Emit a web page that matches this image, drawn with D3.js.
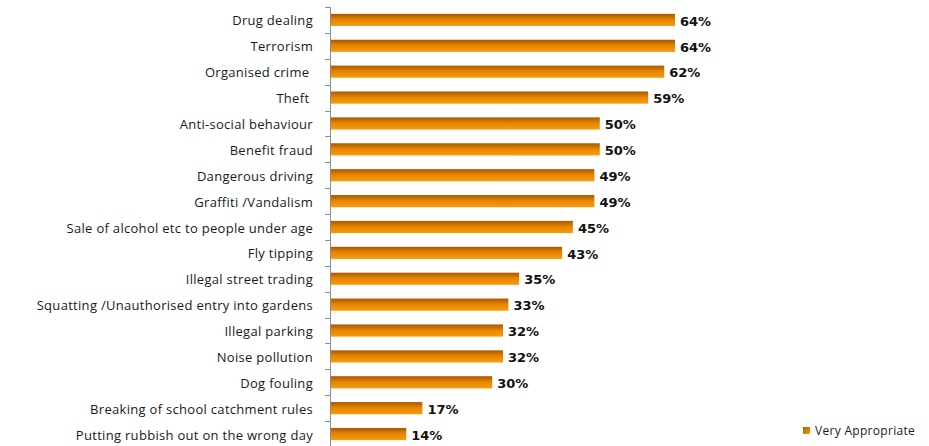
<!DOCTYPE html>
<html>
<head>
<meta charset="utf-8">
<script src="https://cdn.jsdelivr.net/npm/d3@7"></script>
<style>
  html, body { margin: 0; padding: 0; background: #fff; }
  svg { display: block; }
  text { white-space: pre; }
</style>
</head>
<body>
<svg id="chart" width="929" height="446"></svg>
<script>
// Share of respondents rating each issue "Very Appropriate"
const categories = [
  "Drug dealing",
  "Terrorism",
  "Organised crime ",
  "Theft ",
  "Anti-social behaviour",
  "Benefit fraud",
  "Dangerous driving",
  "Graffiti /Vandalism",
  "Sale of alcohol etc to people under age",
  "Fly tipping",
  "Illegal street trading",
  "Squatting /Unauthorised entry into gardens",
  "Illegal parking",
  "Noise pollution",
  "Dog fouling",
  "Breaking of school catchment rules",
  "Putting rubbish out on the wrong day"
];
const values = [64, 64, 62, 59, 50, 50, 49, 49, 45, 43, 35, 33, 32, 32, 30, 17, 14];
const seriesName = "Very Appropriate";

const svg = d3.select("#chart");
const font = "'Open Sans', sans-serif";

const defs = svg.append("defs");
const grad = defs.append("linearGradient")
  .attr("id", "barGrad")
  .attr("x1", 0).attr("y1", 0).attr("x2", 0).attr("y2", 1);
grad.append("stop").attr("offset", "0%").attr("stop-color", "#a85600");
grad.append("stop").attr("offset", "45%").attr("stop-color", "#e48400");
grad.append("stop").attr("offset", "100%").attr("stop-color", "#f99c0c");

const gradL = defs.append("linearGradient")
  .attr("id", "legGrad")
  .attr("x1", 0).attr("y1", 0).attr("x2", 1).attr("y2", 1);
gradL.append("stop").attr("offset", "0%").attr("stop-color", "#b05a00");
gradL.append("stop").attr("offset", "100%").attr("stop-color", "#f99c0c");

const x = d3.scaleLinear().domain([0, 100]).range([331, 868.5]);
const y = d3.scaleBand().domain(categories).range([7, 447]).paddingInner(0.53).paddingOuter(0.265);

// Category axis: vertical line with ticks between bands
const yAxisG = svg.append("g");
yAxisG.append("line")
  .attr("x1", 330.5).attr("x2", 330.5)
  .attr("y1", 7).attr("y2", 446)
  .attr("stroke", "#8c8c8c").attr("stroke-width", 1);
const step = y.step();
d3.range(categories.length + 1).forEach(i => {
  const ty = Math.round(7 + i * step) + 0.5;
  yAxisG.append("line")
    .attr("x1", 325).attr("x2", 331)
    .attr("y1", ty).attr("y2", ty)
    .attr("stroke", "#8c8c8c");
});

// Category labels
svg.append("g").selectAll("text")
  .data(categories)
  .join("text")
  .attr("x", 313)
  .attr("y", d => y(d) + y.bandwidth() / 2 + 1)
  .attr("dy", "0.35em")
  .attr("text-anchor", "end")
  .attr("font-family", font)
  .attr("font-size", 13)
  .attr("letter-spacing", 0.3)
  .attr("fill", "#1a1a1a")
  .text(d => d);

// Bars
svg.append("g").selectAll("rect")
  .data(values)
  .join("rect")
  .attr("x", x(0))
  .attr("y", (d, i) => y(categories[i]))
  .attr("width", d => x(d) - x(0))
  .attr("height", y.bandwidth())
  .attr("fill", "url(#barGrad)");

// Value labels
svg.append("g").selectAll("text")
  .data(values)
  .join("text")
  .attr("x", d => x(d) + 5)
  .attr("y", (d, i) => y(categories[i]) + y.bandwidth() / 2 + 1)
  .attr("dy", "0.36em")
  .attr("font-family", "'DejaVu Sans', sans-serif")
  .attr("font-size", 13)
  .attr("font-weight", "bold")
  .attr("fill", "#111")
  .text(d => d + "%");

// Legend
const leg = svg.append("g").attr("transform", "translate(803,427)");
leg.append("rect").attr("width", 7).attr("height", 7).attr("fill", "url(#legGrad)");
leg.append("text")
  .attr("x", 12).attr("y", 3.5).attr("dy", "0.35em")
  .attr("font-family", font)
  .attr("font-size", 12)
  .attr("letter-spacing", 0.3)
  .attr("fill", "#1a1a1a")
  .text(seriesName);
</script>
</body>
</html>
